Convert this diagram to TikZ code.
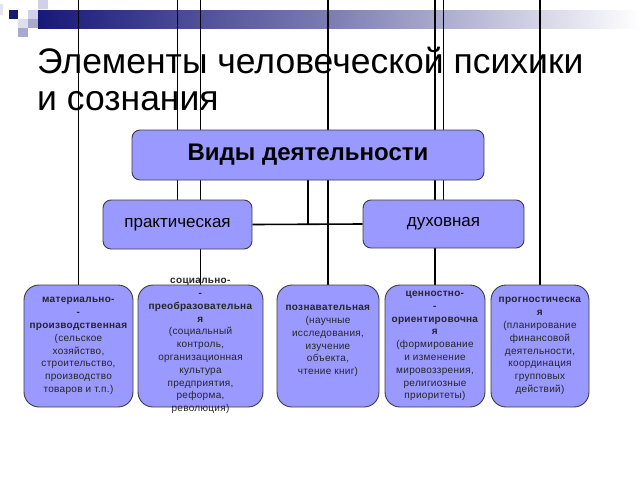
\documentclass[tikz,border=0pt]{standalone}
\usepackage{fontspec}
\setmainfont{Liberation Sans}
\usetikzlibrary{backgrounds}
\definecolor{boxfill}{RGB}{153,153,255}
\definecolor{boxdraw}{RGB}{60,60,60}
\definecolor{navy}{RGB}{24,24,120}
\definecolor{sqA}{RGB}{208,208,232}
\definecolor{sqB}{RGB}{168,168,208}
\tikzset{
  topbox/.style={draw=boxdraw, fill=boxfill, rounded corners=8pt, line width=0.9pt, inner sep=0pt, font=\fontsize{24}{27}\selectfont\bfseries},
  midbox/.style={draw=boxdraw, fill=boxfill, rounded corners=8pt, line width=0.9pt, inner sep=0pt, font=\fontsize{17}{20}\selectfont},
  lowbox/.style={draw=boxdraw, fill=boxfill, rounded corners=15pt, line width=0.9pt, inner sep=0pt, minimum height=122pt},
  lowtext/.style={align=center, inner sep=0pt, font=\fontsize{10}{12.8}\selectfont\addfontfeature{LetterSpace=3}, text=black!85},
  conn/.style={draw=black, line width=1.6pt},
  titletext/.style={anchor=base west, inner sep=0pt, font=\fontsize{35.5}{37}\selectfont},
}
\begin{document}
\begin{tikzpicture}[x=1pt,y=-1pt]
\useasboundingbox (0,0) rectangle (640,480);
\coordinate (edge) at (0,0);
% nodes
\node[topbox, minimum width=352pt, minimum height=50pt] (top) at (308,155) {Виды деятельности};
\node[midbox, minimum width=149pt, minimum height=49pt] (prak) at (177.5,224.5) {практическая};
\node[midbox, minimum width=161pt, minimum height=48pt] (duh) at (443.5,224) {духовная};
\node[lowbox, minimum width=109pt] (b1) at (78.5,346) {};
\node[lowbox, minimum width=125pt] (b2) at (200.5,346) {};
\node[lowbox, minimum width=102pt] (b3) at (328,346) {};
\node[lowbox, minimum width=100pt] (b4) at (435,346) {};
\node[lowbox, minimum width=98pt] (b5) at (540,346) {};
\node[lowtext] (t1) at (b1) {\textbf{материально-}\\\textbf{-}\\\textbf{производственная}\\(сельское\\хозяйство,\\строительство,\\производство\\товаров и т.п.)};
\node[lowtext] (t2) at (b2) {\textbf{социально-}\\\textbf{-}\\\textbf{преобразовательна}\\\textbf{я}\\(социальный\\контроль,\\организационная\\культура\\предприятия,\\реформа,\\революция)};
\node[lowtext] (t3) at ([yshift=5pt]b3.center) {\textbf{познавательная}\\(научные\\исследования,\\изучение\\объекта,\\чтение книг)};
\node[lowtext] (t4) at (b4) {\textbf{ценностно-}\\\textbf{-}\\\textbf{ориентировочна}\\\textbf{я}\\(формирование\\и изменение\\мировоззрения,\\религиозные\\приоритеты)};
\node[lowtext] (t5) at (b5) {\textbf{прогностическа}\\\textbf{я}\\(планирование\\финансовой\\деятельности,\\координация\\групповых\\действий)};
% title
\node[titletext] (title1) at (37,73) {Элементы человеческой психики};
\node[titletext] (title2) at (37,110) {и сознания};
\begin{scope}[on background layer]
  % decoration
  \shade[left color=navy, right color=white, middle color=navy!55!white] (38,10) rectangle (640,28);
  \fill[navy] (9,10) rectangle (18,19);
  \fill[sqA] (38,0) rectangle (48,9);
  \fill[sqA] (28,10) rectangle (38,19);
  \fill[sqA!70!white] (18,19) rectangle (28,28);
  \fill[sqB] (28,19) rectangle (38,28);
  \fill[sqB] (18,28) rectangle (28,37);
  \fill[sqA!60!white] (0,4) rectangle (3,15);
  % connectors
  \draw[conn] (b1.north) -- (b1.north |- edge);
  \draw[conn] (prak.north) -- (prak.north |- edge);
  \draw[conn] (b2.north) -- (b2.north |- edge);
  \draw[conn] (b3.north) -- (b3.north |- edge);
  \draw[conn] (b4.north) -- (b4.north |- edge);
  \draw[conn] (duh.north) -- (duh.north |- edge);
  \draw[conn] (b5.north) -- (b5.north |- edge);
  \draw[conn] (top.south) -- (top.south |- prak.east);
  \draw[conn] (prak.east) -- (duh.west);
\end{scope}
\end{tikzpicture}
\end{document}
